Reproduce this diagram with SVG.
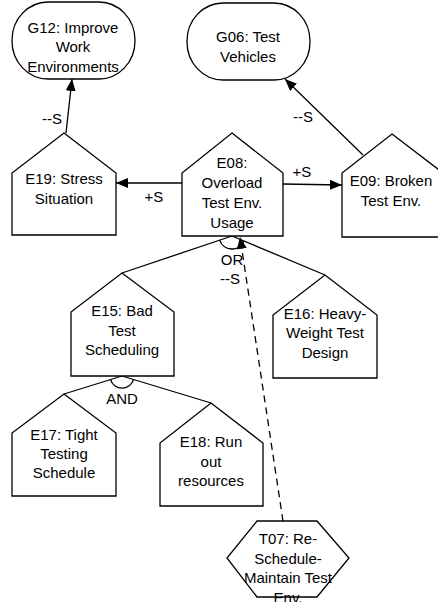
<svg xmlns="http://www.w3.org/2000/svg" width="438" height="602" viewBox="0 0 438 602">
<defs>
<marker id="arr" viewBox="0 0 12 10" refX="12" refY="5" markerWidth="12" markerHeight="10" markerUnits="userSpaceOnUse" orient="auto">
<path d="M0,0 L12,5 L0,10 Z" fill="#000"/>
</marker>
</defs>
<style>
.n{fill:#fff;stroke:#000;stroke-width:1.3}
.e{fill:none;stroke:#000;stroke-width:1.3}
.d{stroke-dasharray:7,5}
text{font-family:"Liberation Sans",Arial,sans-serif;font-size:15px;fill:#000;text-anchor:middle}
</style>
<rect width="438" height="602" fill="#fff"/>
<g id="edges">
<line class="e" x1="66" y1="133" x2="72" y2="79" marker-end="url(#arr)"/>
<line class="e" x1="182" y1="183" x2="116" y2="183" marker-end="url(#arr)"/>
<line class="e" x1="283" y1="184" x2="342" y2="185" marker-end="url(#arr)"/>
<line class="e" x1="363" y1="155" x2="285" y2="79" marker-end="url(#arr)"/>
<line class="e" x1="122" y1="273" x2="232" y2="236"/>
<line class="e" x1="325" y1="275" x2="232" y2="236"/>
<path class="e" d="M219.7,240.2 A13,13 0 0 0 244,241"/>
<line class="e" x1="64" y1="394" x2="122" y2="376"/>
<line class="e" x1="211" y1="403" x2="122" y2="376"/>
<path class="e" d="M110.5,379.5 A12,12 0 0 0 133.5,379.5"/>
<line class="e d" x1="283" y1="521" x2="240" y2="237" marker-end="url(#arr)"/>
<text x="52" y="124">--S</text>
<text x="154" y="202">+S</text>
<text x="302" y="177">+S</text>
<text x="303" y="122">--S</text>
<text x="232" y="265">OR</text>
<text x="230" y="284">--S</text>
<text x="122" y="404">AND</text>
</g>
<g id="G12">
<rect class="n" x="12" y="2" width="123" height="77" rx="36" ry="38"/>
<text x="73" y="33">G12: Improve</text>
<text x="73" y="52">Work</text>
<text x="73" y="72">Environments</text>
</g>
<g id="G06">
<rect class="n" x="187" y="3" width="123" height="77" rx="36" ry="38"/>
<text x="248" y="42">G06: Test</text>
<text x="248" y="62">Vehicles</text>
</g>
<g id="E19">
<polygon class="n" points="64,133 116,173 116,235 12,235 12,173"/>
<text x="64" y="184">E19: Stress</text>
<text x="64" y="204">Situation</text>
</g>
<g id="E08">
<polygon class="n" points="232,133 283,173 283,236 182,236 182,173"/>
<text x="232" y="168">E08:</text>
<text x="232" y="188">Overload</text>
<text x="232" y="208">Test Env.</text>
<text x="232" y="228">Usage</text>
</g>
<g id="E09">
<polygon class="n" points="392,134 443,173 443,237 342,237 342,173"/>
<text x="391" y="186">E09: Broken</text>
<text x="391" y="206">Test Env.</text>
</g>
<g id="E15">
<polygon class="n" points="122,273 174,312 174,376 71,376 71,312"/>
<text x="122" y="316">E15: Bad</text>
<text x="122" y="336">Test</text>
<text x="122" y="355">Scheduling</text>
</g>
<g id="E16">
<polygon class="n" points="325,275 377,315 377,378 273,378 273,315"/>
<text x="325" y="319">E16: Heavy-</text>
<text x="325" y="338">Weight Test</text>
<text x="325" y="358">Design</text>
</g>
<g id="E17">
<polygon class="n" points="64,394 116,433 116,496 12,496 12,433"/>
<text x="64" y="440">E17: Tight</text>
<text x="64" y="459">Testing</text>
<text x="64" y="478">Schedule</text>
</g>
<g id="E18">
<polygon class="n" points="211,403 263,443 263,506 160,506 160,443"/>
<text x="211" y="447">E18: Run</text>
<text x="211" y="467">out</text>
<text x="211" y="486">resources</text>
</g>
<g id="T07">
<polygon class="n" points="257,521 317,521 349,558 317,597 257,597 227,558"/>
<text x="288" y="544">T07: Re-</text>
<text x="288" y="564">Schedule-</text>
<text x="288" y="583">Maintain Test</text>
<text x="288" y="603">Env.</text>
</g>
</svg>
